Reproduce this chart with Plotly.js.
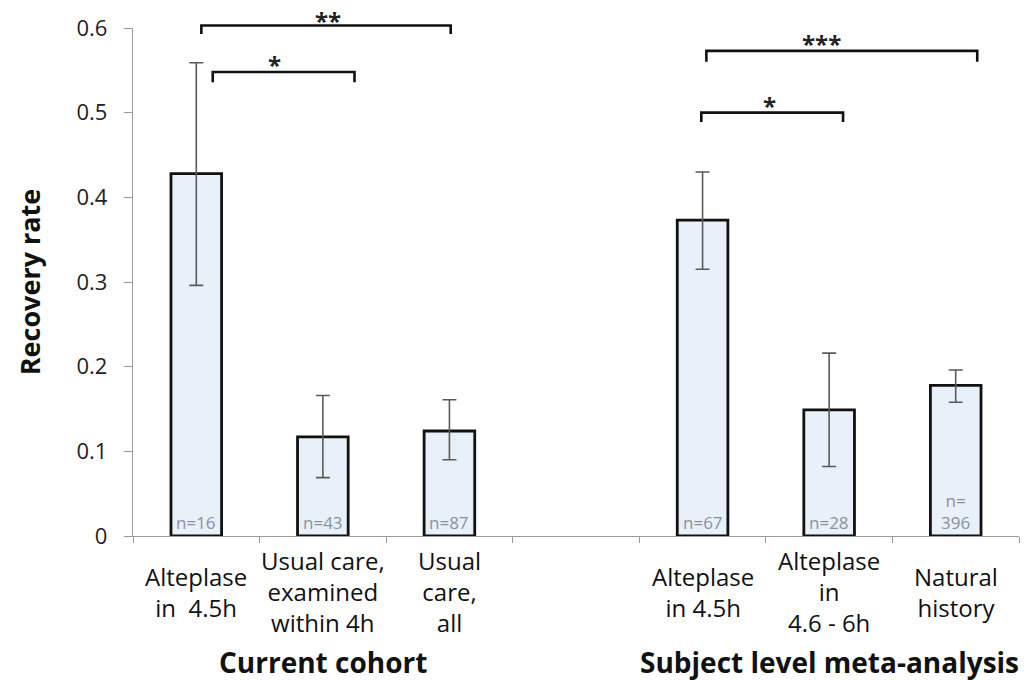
<!DOCTYPE html>
<html><head><meta charset="utf-8">
<script src="https://cdn.plot.ly/plotly-3.0.1.min.js"></script>
<style>html,body{margin:0;padding:0;background:#fff}#chart{width:1033px;height:680px}</style>
</head><body><div id="chart"></div>
<script>
// ---- data ----
const categories = ["Alteplase<br>in  4.5h", "Usual care,<br>examined<br>within 4h", "Usual<br>care,<br>all", " ",
                    "Alteplase<br>in 4.5h", "Alteplase<br>in<br>4.6 - 6h", "Natural<br>history"];
const barCategories = ["Alteplase<br>in  4.5h", "Usual care,<br>examined<br>within 4h", "Usual<br>care,<br>all",
                       "Alteplase<br>in 4.5h", "Alteplase<br>in<br>4.6 - 6h", "Natural<br>history"];
const recoveryRate = [0.428, 0.117, 0.124, 0.373, 0.149, 0.178];
const ciUpper      = [0.559, 0.166, 0.161, 0.430, 0.216, 0.196];
const ciLower      = [0.296, 0.069, 0.090, 0.315, 0.082, 0.158];
const sampleSizes  = ["n=16", "n=43", "n=87", "n=67", "n=28", "n=<br>396"];
const yTicks = [0, 0.1, 0.2, 0.3, 0.4, 0.5, 0.6];
const groupTitles  = ["Current cohort", "Subject level meta-analysis"];
const groupCenterCats = ["Usual care,<br>examined<br>within 4h", "Alteplase<br>in<br>4.6 - 6h"];
const sigLabels = ["**", "*", "***", "*"];

// ---- bracket geometry (annotation layout, in y-data units) ----
const brackets = [
  {from: 0.04, to: 2.01, y: 0.603, leg: 0.010, labelX: 1.04, labelShift: -14},
  {from: 0.13, to: 1.25, y: 0.548, leg: 0.012, labelX: 0.62, labelShift: -11},
  {from: 4.03, to: 6.17, y: 0.573, leg: 0.013, labelX: 4.94, labelShift: -11},
  {from: 3.99, to: 5.11, y: 0.500, leg: 0.011, labelX: 4.53, labelShift: -11}
];

const yRange = [0, 0.6];
// y data value -> fraction of the plot height (paper units), so marks outside the range are not culled
const yFrac = v => (v - yRange[0]) / (yRange[1] - yRange[0]);

const FONT = "'Open Sans', 'DejaVu Sans', sans-serif";
const errPlus = recoveryRate.map((v, i) => ciUpper[i] - v);
const errMinus = recoveryRate.map((v, i) => v - ciLower[i]);

const trace = {
  type: 'bar',
  x: barCategories,
  y: recoveryRate,
  width: 0.4,
  marker: {color: '#e8f0fa', line: {color: '#111111', width: 2.8}},
  error_y: {type: 'data', symmetric: false, array: errPlus, arrayminus: errMinus,
            color: '#5a5a5a', thickness: 1.6, width: 7},
  hoverinfo: 'skip'
};

const annotations = [];
// category labels (vertically centred, as in the reference)
categories.forEach((c, i) => {
  if (c.trim() === '') return;
  annotations.push({xref: 'x', yref: 'paper', x: i, y: yFrac(-0.066), text: c, showarrow: false,
    xanchor: 'center', yanchor: 'middle', font: {family: FONT, size: 24, color: '#111'}});
});
// sample sizes inside bars
barCategories.forEach((c, i) => {
  annotations.push({xref: 'x', yref: 'paper', x: categories.indexOf(c), y: yFrac(0), text: sampleSizes[i],
    showarrow: false, xanchor: 'center', yanchor: 'bottom', yshift: 0,
    font: {family: FONT, size: 17, color: '#8b929c'}});
});
// group titles
groupTitles.forEach((t, i) => {
  annotations.push({xref: 'x', yref: 'paper', x: categories.indexOf(groupCenterCats[i]), y: yFrac(-0.149),
    text: '<b>' + t + '</b>', showarrow: false, xanchor: 'center', yanchor: 'middle',
    font: {family: FONT, size: 28, color: '#111'}});
});
// significance marks
const shapes = [];
brackets.forEach((b, i) => {
  const yTop = yFrac(b.y), yLeg = yFrac(b.y - b.leg);
  shapes.push({type: 'path', xref: 'x', yref: 'paper',
    path: `M ${b.from},${yLeg} L ${b.from},${yTop} L ${b.to},${yTop} L ${b.to},${yLeg}`,
    line: {color: '#111', width: 2.6}});
  annotations.push({xref: 'x', yref: 'paper', x: b.labelX, y: yTop, text: '<b>' + sigLabels[i] + '</b>',
    showarrow: false, xanchor: 'center', yanchor: 'bottom', yshift: b.labelShift,
    font: {family: FONT, size: 24, color: '#222'}});
});

const layout = {
  width: 1033, height: 680,
  margin: {l: 133, r: 14, t: 28, b: 144},
  paper_bgcolor: '#fff', plot_bgcolor: '#fff',
  showlegend: false,
  xaxis: {type: 'category', categoryorder: 'array', categoryarray: categories,
    range: [-0.5, 6.5], showticklabels: false, ticks: 'outside', tickson: 'boundaries',
    ticklen: 6, tickcolor: '#999', tickwidth: 1, showline: true, linecolor: '#999', linewidth: 1.2,
    showgrid: false, zeroline: false, fixedrange: true},
  yaxis: {range: yRange, tickmode: 'array', tickvals: yTicks, ticktext: yTicks.map(String),
    ticks: 'outside', ticklen: 8, tickcolor: '#999', showline: true, linecolor: '#999', linewidth: 1.2,
    showgrid: false, zeroline: false, fixedrange: true, ticklabelstandoff: 12,
    tickfont: {family: FONT, size: 22, color: '#222'},
    title: {text: '<b>Recovery rate</b>', standoff: 28, font: {family: FONT, size: 27, color: '#111'}}},
  shapes: shapes,
  annotations: annotations
};

Plotly.newPlot('chart', [trace], layout, {displayModeBar: false, staticPlot: true});
</script></body></html>
